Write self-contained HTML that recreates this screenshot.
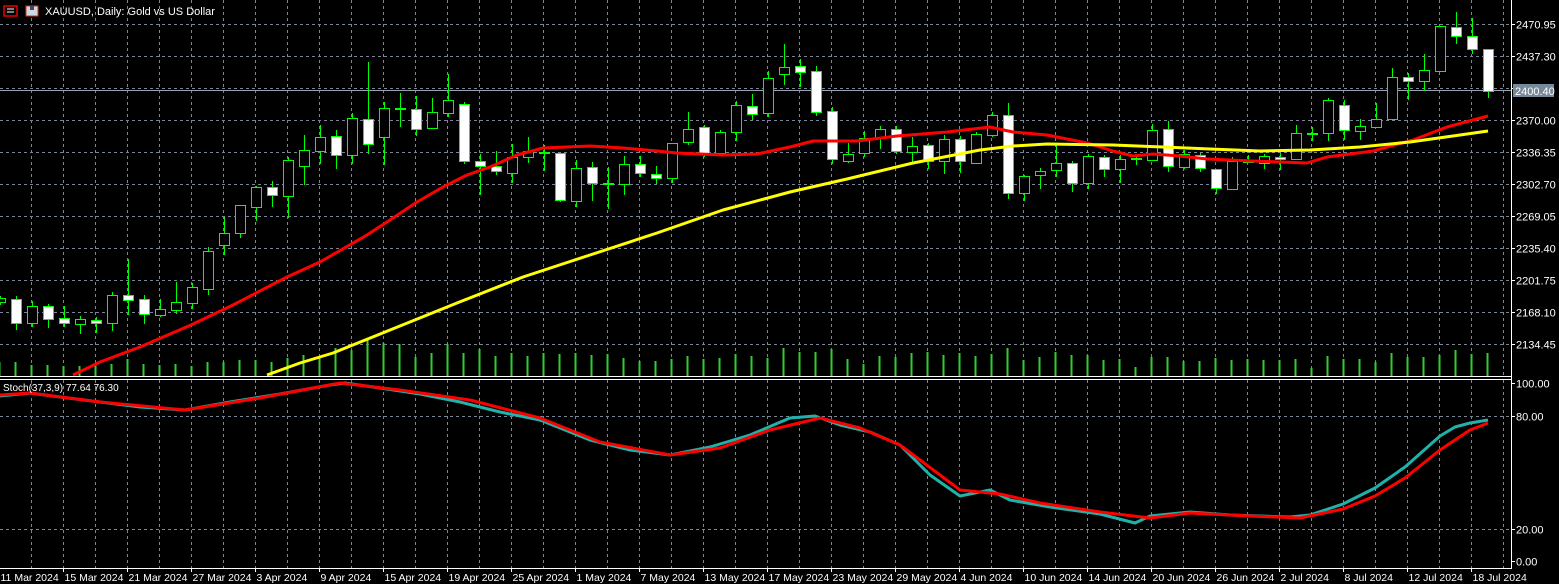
<!DOCTYPE html>
<html><head><meta charset="utf-8"><style>
html,body{margin:0;padding:0;background:#000;width:1559px;height:584px;overflow:hidden}
svg{display:block;font-family:"Liberation Sans",sans-serif}
</style></head><body>
<svg id="s" width="1559" height="584" xmlns="http://www.w3.org/2000/svg"></svg>
<script>
const S=document.getElementById('s');let h='';
const G='#7a8597';
// vertical grid
for(let x=31.5;x<1511;x+=32){h+=`<line x1="${x}" y1="0" x2="${x}" y2="376" stroke="${G}" stroke-dasharray="3,3"/>`;h+=`<line x1="${x}" y1="380" x2="${x}" y2="568" stroke="${G}" stroke-dasharray="3,3"/>`;}
// horizontal grid main
const pl=['2470.95','2437.30','2403.65','2370.00','2336.35','2302.70','2269.05','2235.40','2201.75','2168.10','2134.45'];
for(let i=0;i<11;i++){const y=24.5+32*i;h+=`<line x1="0" y1="${y}" x2="1511" y2="${y}" stroke="${G}" stroke-dasharray="3,3"/>`;h+=`<line x1="1511" y1="${y}" x2="1515" y2="${y}" stroke="#fff"/>`;if(i!=2)h+=`<text x="1516" y="${y+4}" fill="#fff" font-size="11">${pl[i]}</text>`;}
// stoch grid
[[416.5,'80.00',1],[529.5,'20.00',1],[383.5,'100.00',0],[561.5,'0.00',0]].forEach(a=>{if(a[2])h+=`<line x1="0" y1="${a[0]}" x2="1511" y2="${a[0]}" stroke="${G}" stroke-dasharray="3,3"/>`;h+=`<line x1="1511" y1="${a[0]}" x2="1515" y2="${a[0]}" stroke="#fff"/><text x="1516" y="${a[0]+4}" fill="#fff" font-size="11">${a[1]}</text>`;});
// current price line
h+=`<line x1="0" y1="90.5" x2="1511" y2="90.5" stroke="#9aa3ad"/>`;
// volumes
const vt=[362,362,365,365,366,366,365,364,359,364,365,364,366,362,362,360,360,362,358,355,357,348,350,338,343,344,357,353,344,353,349,356,353,356,353,354,353,355,354,358,361,361,359,356,359,358,354,356,358,348,352,352,349,359,364,356,357,353,352,355,353,356,354,348,360,357,352,355,355,360,359,367,357,357,361,361,358,360,359,360,360,359,368,356,359,359,362,353,357,357,355,350,354,353];
vt.forEach((t,k)=>{const x=-0.5+16*k;h+=`<rect x="${x-1}" y="${t}" width="2" height="${376-t}" fill="#32cd32"/>`;});
// candles: [bodyTop,bodyBot,hi,lo,bear]
const C=[[298,302,296,305,0],[299,323,296,330,1],[306,323,301,327,0],[306,319,304,328,1],[318,323,306,327,1],[319,324,316,334,0],[320,323,317,333,1],[295,323,292,331,0],[295,300,259,315,1],[299,314,295,324,1],[309,315,299,317,0],[302,310,282,314,0],[287,303,283,309,0],[251,289,247,295,0],[233,245,217,255,0],[205,233,205,238,0],[187,207,186,221,0],[187,195,181,207,1],[160,196,157,218,0],[150,166,135,185,0],[137,151,125,164,0],[136,155,130,169,1],[118,155,113,164,0],[119,144,62,154,1],[108,137,102,165,0],[109,109,93,127,0],[109,129,96,136,1],[112,128,98,128,0],[100,113,74,117,0],[104,161,102,164,1],[161,166,154,195,1],[166,171,151,175,1],[157,173,144,183,0],[151,157,137,163,0],[153,153,145,171,0],[153,200,153,202,1],[168,201,160,207,0],[167,183,162,201,1],[184,184,167,209,0],[164,184,156,195,0],[164,173,156,177,1],[174,178,166,184,1],[143,178,143,183,0],[129,142,112,145,0],[127,153,125,157,1],[132,153,130,153,0],[105,132,101,141,0],[106,114,94,120,1],[78,113,71,117,0],[67,74,44,85,0],[66,72,59,87,1],[71,112,66,116,1],[111,159,107,164,1],[154,161,143,163,0],[138,153,131,157,0],[129,138,126,149,0],[129,151,126,154,1],[146,152,137,163,0],[145,161,143,169,1],[139,161,135,174,0],[139,161,136,173,1],[134,163,132,163,0],[115,135,112,137,0],[115,193,103,199,1],[176,193,175,201,0],[171,175,168,189,0],[163,170,145,177,0],[163,183,161,192,1],[156,183,154,189,0],[157,169,155,177,1],[159,169,155,183,0],[159,159,157,165,0],[130,160,124,160,0],[129,166,121,172,1],[154,167,150,169,0],[155,168,153,172,1],[169,188,169,194,1],[161,189,157,190,0],[160,162,155,163,1],[156,163,154,169,0],[157,159,153,170,1],[133,159,125,159,0],[134,134,127,141,0],[100,133,98,141,0],[105,130,100,140,1],[126,131,119,140,0],[119,127,103,127,0],[77,119,68,119,0],[77,81,73,100,1],[70,81,54,91,0],[26,71,26,71,0],[27,36,12,44,1],[36,49,18,54,1],[49,91,49,98,1]];
C.forEach((c,k)=>{const x=Math.round(-0.5+16*k);const cx=x+0.5;
h+=`<line x1="${cx}" y1="${c[2]}" x2="${cx}" y2="${c[3]}" stroke="#00ff00"/>`;
if(c[1]-c[0]<2){h+=`<rect x="${x-5}" y="${c[0]-1}" width="11" height="2" fill="#00ff00"/>`;}
else h+=`<rect x="${x-4.5}" y="${c[0]+0.5}" width="10" height="${c[1]-c[0]}" fill="${c[4]?'#fff':'#000'}" stroke="#00ff00"/>`;});
function pline(p,col,w){h+=`<polyline fill="none" stroke="${col}" stroke-width="${w}" stroke-linejoin="round" points="${p.map(a=>a.join(',')).join(' ')}"/>`;}
pline([[73,375],[100,362],[140,347],[191,325],[233,305],[287,277],[320,262],[367,235],[390,220],[417,202],[443,187],[467,175],[490,167],[517,155],[543,148],[590,146],[623,148],[657,151],[677,153],[723,155],[757,154],[790,147],[813,141],[857,141],[897,136],[947,132],[990,127],[1013,132],[1047,135],[1087,143],[1113,151],[1133,156],[1153,154],[1180,156],[1207,159],[1253,161],[1307,163],[1327,157],[1373,151],[1413,140],[1447,127],[1488,116]],'#ff0000',3);
pline([[267,375],[300,363],[333,353],[390,330],[457,303],[523,277],[590,255],[657,233],[723,210],[790,192],[847,179],[913,163],[980,150],[1013,146],[1047,144],[1113,145],[1163,147],[1210,149],[1260,151],[1310,150],[1360,147],[1410,142],[1460,135],[1488,131]],'#ffff00',3);
// stoch
pline([[0,396],[30,393],[60,397],[100,402],[140,407],[185,410],[230,402],[280,394],[330,385],[345,383],[380,388],[420,394],[460,402],[500,412],[540,420],[590,440],[630,450],[670,455],[710,447],[750,435],[790,418],[815,416],[840,425],[870,432],[900,445],[930,475],[960,496],[990,490],[1010,500],[1050,507],[1100,514],[1135,523],[1150,516],[1190,512],[1230,515],[1290,517],[1310,515],[1343,504],[1375,488],[1405,467],[1440,436],[1455,427],[1470,423],[1488,420]],'#20b2aa',3);
pline([[0,395],[30,393],[100,402],[185,410],[260,398],[340,383],[400,390],[470,400],[540,418],[600,442],[670,455],[720,448],[770,430],[820,418],[860,428],[900,445],[960,490],[1000,494],[1040,503],[1100,512],[1150,518],[1190,513],[1250,516],[1300,518],[1343,509],[1375,496],[1405,478],[1440,450],[1470,430],[1488,423]],'#ff0000',3);
// frames
h+=`<rect x="0" y="376" width="1511" height="1" fill="#fff"/><rect x="0" y="379" width="1511" height="1" fill="#fff"/><rect x="0" y="568" width="1512" height="1" fill="#fff"/><rect x="1511" y="0" width="1" height="569" fill="#fff"/>`;
// price tag
h+=`<rect x="1513" y="84" width="41" height="13" fill="#778899"/><text x="1515" y="95" fill="#fff" font-size="11">2400.40</text>`;
// time labels
const d=['11 Mar 2024','15 Mar 2024','21 Mar 2024','27 Mar 2024','3 Apr 2024','9 Apr 2024','15 Apr 2024','19 Apr 2024','25 Apr 2024','1 May 2024','7 May 2024','13 May 2024','17 May 2024','23 May 2024','29 May 2024','4 Jun 2024','10 Jun 2024','14 Jun 2024','20 Jun 2024','26 Jun 2024','2 Jul 2024','8 Jul 2024','12 Jul 2024','18 Jul 2024'];
d.forEach((t,i)=>{const x=-0.5+64*i;h+=`<line x1="${x}" y1="568" x2="${x}" y2="572" stroke="#fff"/><text x="${x+1}" y="581" fill="#fff" font-size="10.5">${t}</text>`;});
// title
h+=`<rect x="4" y="6" width="13" height="10" fill="none" stroke="#e00" stroke-width="1.5"/><line x1="7" y1="9" x2="14" y2="9" stroke="#fff"/><line x1="7" y1="12" x2="14" y2="12" stroke="#fff"/>`;
h+=`<rect x="26" y="6" width="12" height="10" fill="#cfd8dc" stroke="#c33"/><rect x="30" y="6" width="4" height="4" fill="#446"/>`;
h+=`<text x="45" y="15" fill="#fff" font-size="11">XAUUSD, Daily:  Gold vs US Dollar</text>`;
h+=`<text x="3" y="391" fill="#fff" font-size="10">Stoch(37,3,9) 77.64 76.30</text>`;
S.innerHTML=h;
</script>
</body></html>
